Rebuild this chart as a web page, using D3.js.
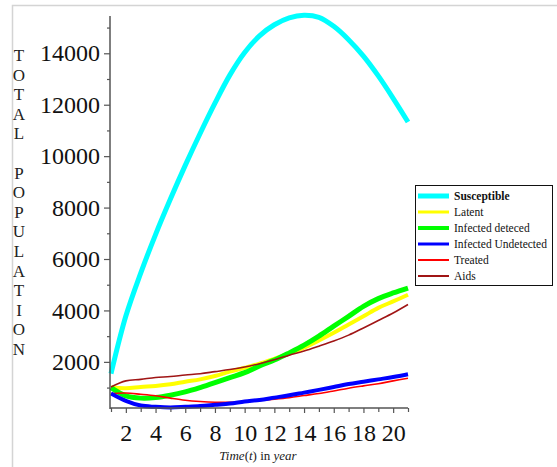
<!DOCTYPE html>
<html>
<head>
<meta charset="utf-8">
<script src="https://cdn.jsdelivr.net/npm/d3@7/dist/d3.min.js"></script>
<style>
  html, body { margin: 0; padding: 0; background: #fff; }
  svg { display: block; }
</style>
</head>
<body>
<svg id="chart" width="557" height="467"></svg>
<script>
// ---- Data ----
const years = [1,2,3,4,5,6,7,8,9,10,11,12,13,14,15,16,17,18,19,20,21];
const susceptible = [1540,3780,5450,6950,8330,9640,10880,12060,13150,14030,14680,15110,15380,15480,15400,15050,14530,13890,13120,12250,11330];
const latent = [1000,975,1025,1065,1130,1230,1320,1450,1620,1770,1930,2120,2320,2550,2830,3130,3450,3770,4100,4350,4610];
const infectedDetected = [1000,680,590,610,700,830,1000,1190,1390,1580,1840,2070,2350,2650,3000,3390,3770,4160,4460,4680,4870];
const infectedUndetected = [770,485,300,250,225,250,280,330,380,460,520,610,700,805,910,1025,1140,1230,1320,1410,1520];
const treated = [770,790,740,680,590,510,460,430,430,445,500,550,610,690,770,870,975,1065,1150,1260,1360];
const aids = [1025,1260,1320,1390,1430,1490,1540,1620,1700,1800,1930,2080,2260,2420,2610,2810,3040,3320,3610,3900,4230];

const seriesNames = ["Susceptible","Latent","Infected deteced","Infected Undetected","Treated","Aids"];
const seriesValues = [susceptible, latent, infectedDetected, infectedUndetected, treated, aids];

const yMajorTicks = [2000,4000,6000,8000,10000,12000,14000];
const yMinorTicks = [1000,3000,5000,7000,9000,11000,13000,15000];
const xMajorTicks = [2,4,6,8,10,12,14,16,18,20];
const xMinorTicks = [1,3,5,7,9,11,13,15,17,19,21];
const yAxisTitle = "TOTAL POPULATION";

// ---- Styles ----
const colors = ["#00ffff","#ffff00","#00ff00","#0000ff","#ff0000","#a01515"];
const widths = [5,4,5,4,1.6,1.6];
const legendWidths = [5,3,4,3,2,2];

const svg = d3.select("#chart");

// frame
svg.append("rect").attr("x",12.5).attr("y",5.5).attr("width",600).attr("height",600)
  .attr("fill","none").attr("stroke","#d4d4d4").attr("stroke-width",1.5);

const x = d3.scaleLinear().domain([1,21]).range([111,408]);
const y = d3.scaleLinear().domain([206,15450]).range([408,16]);

const axisColor = "#555";
const font = "'Liberation Serif', 'Times New Roman', serif";

// Lines
const line = d3.line().x(d => x(d[0])).y(d => y(d[1])).curve(d3.curveCatmullRom.alpha(0.5));
const drawOrder = [0,1,2,5,4,3];
drawOrder.forEach(i => {
  const pts = years.map((t,k) => [t, seriesValues[i][k]]);
  svg.append("path").datum(pts).attr("d", line)
    .attr("fill","none").attr("stroke",colors[i]).attr("stroke-width",widths[i])
    .attr("stroke-linejoin","round");
});

// Y axis
const yAxisG = svg.append("g").attr("transform","translate(110,0)");
yAxisG.call(d3.axisLeft(y).tickValues(yMajorTicks).tickSize(6).tickFormat(d3.format("d")).tickPadding(4));
yAxisG.append("g").call(d3.axisLeft(y).tickValues(yMinorTicks).tickSize(3).tickFormat(""));
yAxisG.selectAll("path.domain").remove();
yAxisG.append("line").attr("x1",0).attr("x2",0).attr("y1",y.range()[1]).attr("y2",y.range()[0]+1)
  .attr("stroke",axisColor).attr("stroke-width",1.5);
yAxisG.selectAll(".tick line").attr("stroke",axisColor).attr("stroke-width",1.2);
yAxisG.selectAll(".tick text").attr("font-family",font).attr("font-size",24).attr("fill","#111");

// X axis
const xAxisG = svg.append("g").attr("transform","translate(0,408)");
xAxisG.call(d3.axisBottom(x).tickValues(xMajorTicks).tickSize(5).tickFormat(d3.format("d")).tickPadding(11));
xAxisG.append("g").call(d3.axisBottom(x).tickValues(xMinorTicks).tickSize(4).tickFormat(""));
xAxisG.selectAll("path.domain").remove();
xAxisG.append("line").attr("x1",x.range()[0]-1).attr("x2",x.range()[1]).attr("y1",0).attr("y2",0)
  .attr("stroke",axisColor).attr("stroke-width",1.5);
xAxisG.selectAll(".tick line").attr("stroke",axisColor).attr("stroke-width",1.2);
xAxisG.selectAll(".tick text").attr("font-family",font).attr("font-size",24).attr("fill","#111");

// X axis title
const xt = svg.append("text").attr("x",258).attr("y",460).attr("text-anchor","middle")
  .attr("font-family",font).attr("font-size",13).attr("fill","#222");
xt.append("tspan").attr("font-style","italic").text("Time");
xt.append("tspan").text("(");
xt.append("tspan").attr("font-style","italic").text("t");
xt.append("tspan").text(") in ");
xt.append("tspan").attr("font-style","italic").text("year");

// Y axis title (stacked letters)
const letters = yAxisTitle.split("");
svg.append("g").selectAll("text").data(letters).join("text")
  .attr("x",19).attr("y",(d,i) => 61 + i*19.6).attr("text-anchor","middle")
  .attr("font-family",font).attr("font-size",17).attr("fill","#222")
  .text(d => d);

// Legend
const lg = svg.append("g").attr("transform","translate(415,185)");
lg.append("rect").attr("x",0.5).attr("y",0.5).attr("width",137).attr("height",100)
  .attr("fill","#fff").attr("stroke","#111").attr("stroke-width",1);
seriesNames.forEach((name,i) => {
  const cy = 11 + i*16;
  lg.append("line").attr("x1",3).attr("x2",34).attr("y1",cy).attr("y2",cy)
    .attr("stroke",colors[i]).attr("stroke-width",legendWidths[i]);
  lg.append("text").attr("x",39).attr("y",cy+4).attr("font-family",font).attr("font-size",11.5)
    .attr("font-weight", i===0 ? "bold" : "normal").attr("fill","#111").text(name);
});
</script>
</body>
</html>
